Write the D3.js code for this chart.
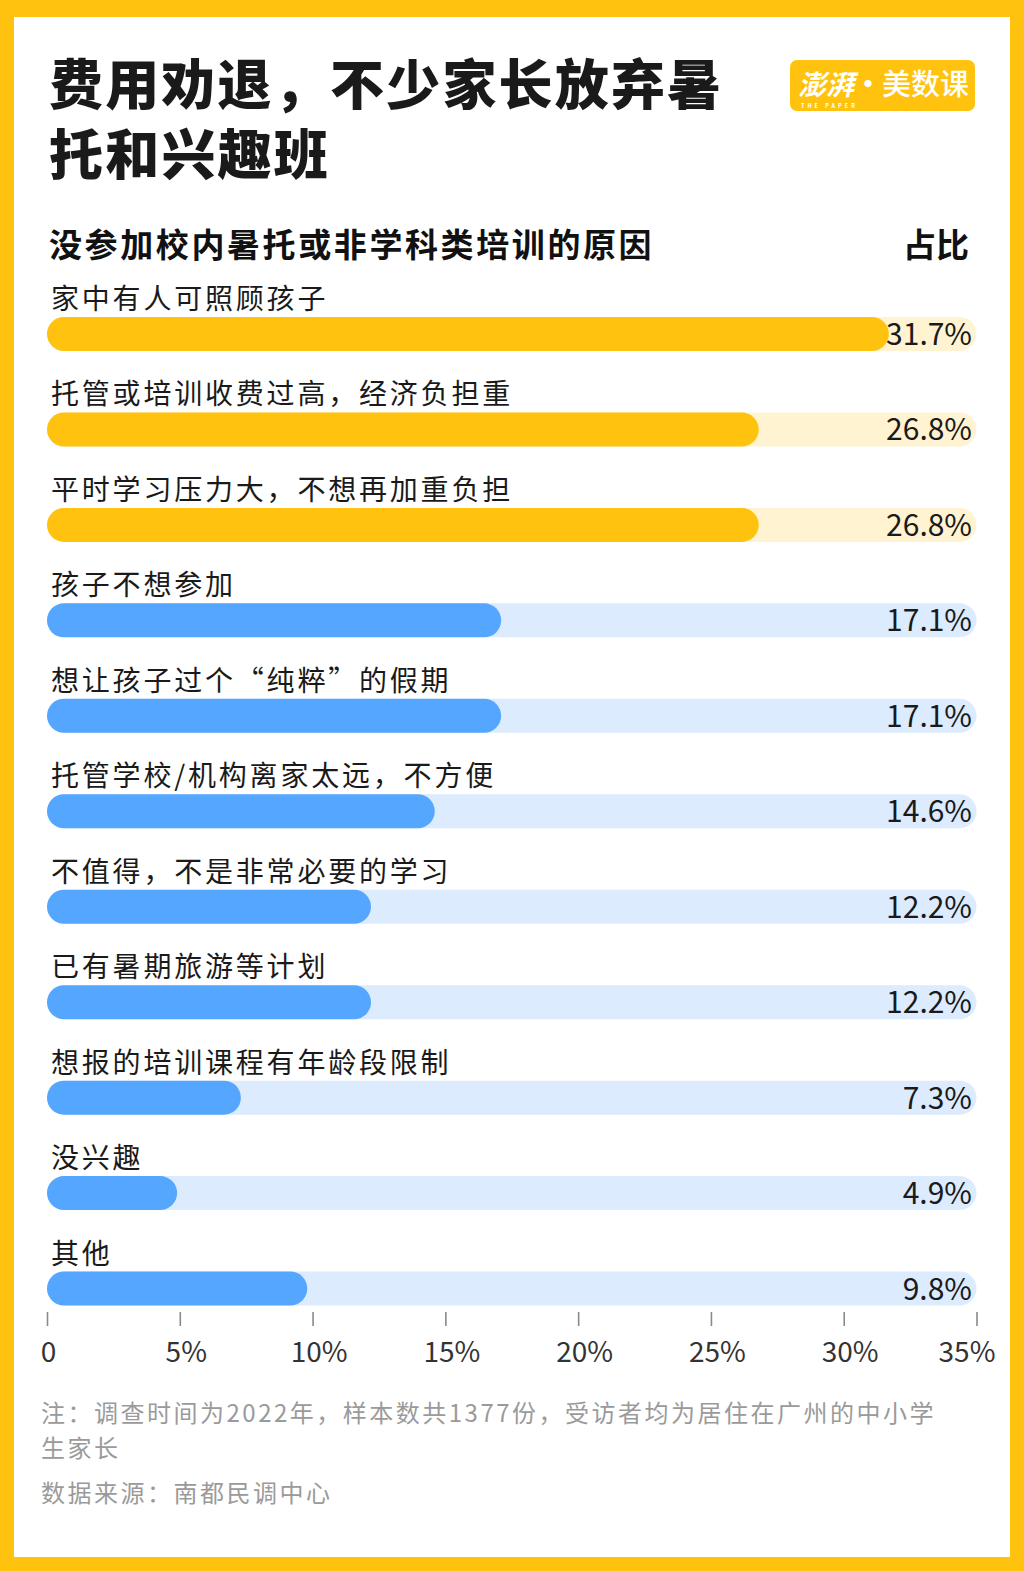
<!DOCTYPE html>
<html><head><meta charset="utf-8">
<script src="https://cdn.jsdelivr.net/npm/d3@7"></script>
<style>
html,body{margin:0;padding:0;background:#fff;}
svg{display:block;}
text{font-family:"Noto Sans CJK SC","Noto Sans",sans-serif;}
</style></head>
<body>
<script>
const categories = ["家中有人可照顾孩子","托管或培训收费过高，经济负担重","平时学习压力大，不想再加重负担","孩子不想参加","想让孩子过个“纯粹”的假期","托管学校/机构离家太远，不方便","不值得，不是非常必要的学习","已有暑期旅游等计划","想报的培训课程有年龄段限制","没兴趣","其他"];
const values = [31.7,26.8,26.8,17.1,17.1,14.6,12.2,12.2,7.3,4.9,9.8];
const highlight = [true,true,true,false,false,false,false,false,false,false,false];
const tickValues = [0,5,10,15,20,25,30,35];
const tickLabels = ["0","5%","10%","15%","20%","25%","30%","35%"];
const titleLines = ["费用劝退，不少家长放弃暑","托和兴趣班"];
const subtitle = "没参加校内暑托或非学科类培训的原因";
const valueHeader = "占比";
const noteLines = ["注：调查时间为2022年，样本数共1377份，受访者均为居住在广州的中小学","生家长"];
const sourceText = "数据来源：南都民调中心";

const W = 1024, H = 1571;
const YEL = "#FFC20E", YEL_BG = "#FFF3D1", BLUE = "#55A6FF", BLUE_BG = "#DCEBFE";

const svg = d3.select("body").append("svg").attr("width", W).attr("height", H);
svg.append("rect").attr("width", W).attr("height", H).attr("fill", YEL);
svg.append("rect").attr("x", 14).attr("y", 17).attr("width", 1010-14).attr("height", 1557-17).attr("fill", "#fff");

// title (one text element, two lines)
const title = svg.append("text").attr("x", 49).attr("y", 105)
  .attr("font-size", 54).attr("font-weight", 900).attr("letter-spacing", 2.2).attr("fill", "#1a1a1a");
title.selectAll("tspan").data(titleLines).join("tspan")
  .attr("x", 49).attr("dy", (d,i) => i === 0 ? 0 : 70).text(d => d);

// logo
const logo = svg.append("g").attr("transform", "translate(790,60)");
logo.append("rect").attr("width", 185).attr("height", 51).attr("rx", 7).attr("fill", YEL);
const lt = logo.append("text").attr("x", 8).attr("y", 35).attr("fill", "#fff");
lt.append("tspan").attr("font-size", 28).attr("font-weight", 700).attr("font-style", "italic").text("澎湃");
lt.append("tspan").attr("font-size", 28).attr("font-weight", 700).attr("dx", 0).text("·");
lt.append("tspan").attr("font-size", 29).attr("font-weight", 500).attr("dx", 0).text("美数课");
lt.append("tspan").attr("x", 11).attr("y", 48).attr("font-size", 5.5).attr("font-weight", 700)
  .attr("letter-spacing", 3).text("THE PAPER");

// subtitle
svg.append("text").attr("x", 49).attr("y", 257).attr("font-size", 33).attr("font-weight", 700)
  .attr("letter-spacing", 2.6).attr("fill", "#111").text(subtitle);
svg.append("text").attr("x", 969).attr("y", 257).attr("font-size", 33).attr("font-weight", 700)
  .attr("text-anchor", "end").attr("fill", "#111").text(valueHeader);

// scales
const x = d3.scaleLinear().domain([0, 35]).range([47, 976.5]);
const y = d3.scaleBand().domain(categories).range([286, 1336]).paddingInner(0).paddingOuter(0);
const barH = 34;
const barY = d => y(d) + 31;

const rows = svg.append("g").selectAll("g").data(categories).join("g");
rows.append("rect")
  .attr("x", x(0)).attr("y", d => barY(d)).attr("height", barH)
  .attr("width", x(35) - x(0)).attr("rx", barH/2)
  .attr("fill", (d,i) => highlight[i] ? YEL_BG : BLUE_BG);
rows.append("rect")
  .attr("x", x(0)).attr("y", d => barY(d)).attr("height", barH)
  .attr("width", (d,i) => x(values[i]) - x(0)).attr("rx", barH/2)
  .attr("fill", (d,i) => highlight[i] ? YEL : BLUE);
rows.append("text")
  .attr("x", 51).attr("y", d => barY(d) - 8)
  .attr("font-size", 28).attr("letter-spacing", 2.8).attr("fill", "#1a1a1a").text(d => d);
rows.append("text")
  .attr("x", 972).attr("y", d => barY(d) + barH/2 + 11)
  .attr("text-anchor", "end").attr("font-size", 30).attr("fill", "#1a1a1a")
  .text((d,i) => values[i].toFixed(1) + "%");

// axis
const axis = d3.axisBottom(x).tickValues(tickValues).tickSize(14).tickPadding(16)
  .tickFormat((d,i) => tickLabels[i]);
const ax = svg.append("g").attr("transform", "translate(0,1312)").call(axis);
ax.select(".domain").remove();
ax.selectAll(".tick line").attr("stroke", "#8a8a8a").attr("stroke-width", 1.6);
ax.selectAll(".tick text").attr("font-size", 28).attr("fill", "#333")
  .attr("font-family", '"Noto Sans CJK SC","Noto Sans",sans-serif')
  .attr("dx", (d,i) => i === 0 ? 1 : (i === tickValues.length-1 ? -10 : 6));

// notes
const note = svg.append("text").attr("x", 41).attr("y", 1422)
  .attr("font-size", 24).attr("letter-spacing", 2.5).attr("fill", "#9a9a9a");
note.selectAll("tspan").data(noteLines).join("tspan")
  .attr("x", 41).attr("dy", (d,i) => i === 0 ? 0 : 35).text(d => d);
svg.append("text").attr("x", 41).attr("y", 1502).attr("font-size", 24).attr("letter-spacing", 2.5)
  .attr("fill", "#9a9a9a").text(sourceText);
</script>
</body></html>
